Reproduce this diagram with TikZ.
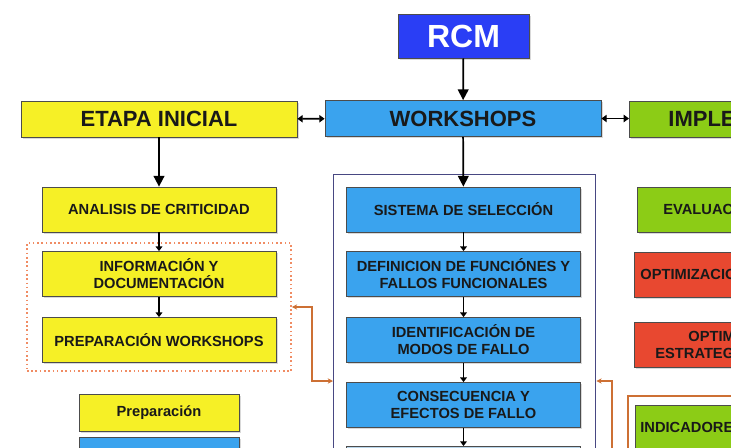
\documentclass[tikz,border=0pt]{standalone}
\usepackage{fontspec}
\setmainfont{Liberation Sans}
\usepackage{tikz}
\usetikzlibrary{shapes,arrows,arrows.meta,positioning,shadows,fit}

\definecolor{amarillo}{RGB}{246,240,38}
\definecolor{celeste}{RGB}{58,163,238}
\definecolor{azulrcm}{RGB}{42,62,245}
\definecolor{verde}{RGB}{140,204,22}
\definecolor{rojo}{RGB}{232,72,48}
\definecolor{naranja}{RGB}{205,112,52}
\definecolor{punteado}{RGB}{240,140,100}
\definecolor{marcoazul}{RGB}{72,72,130}

\tikzset{
	caja/.style={draw=black!70, line width=0.6pt, text=black!90, align=center, inner sep=0pt,
		font=\bfseries\fontsize{11}{12.75}\selectfont,
		drop shadow={opacity=0.3, shadow xshift=1.2pt, shadow yshift=-1.2pt}},
	grande/.style={caja, minimum width=207pt, minimum height=27pt, font=\bfseries\fontsize{16.5}{18}\selectfont},
	chica/.style={caja, minimum width=175.5pt, minimum height=33.75pt},
	corte/.style={caja, anchor=north west, align=left, inner ysep=0pt},
	flecha/.style={-{Triangle[length=8pt,width=8pt]}, line width=1.3pt},
	flechita/.style={-{Triangle[length=3.5pt,width=5pt]}, line width=1.2pt},
	doble/.style={{Triangle[length=4pt,width=5.5pt]}-{Triangle[length=4pt,width=5.5pt]}, line width=1.2pt},
	enlace/.style={{Stealth[length=4pt,width=4pt]}-{Stealth[length=4pt,width=4pt]}, draw=naranja, line width=1pt},
	retorno/.style={{Stealth[length=4pt,width=4pt]}-, draw=naranja, line width=1pt}
}

\begin{document}
\begin{tikzpicture}[x=0.75pt,y=-0.75pt]
	\useasboundingbox (0,0) rectangle (731,447);
	\clip (0,0) rectangle (731,447);

	\node[caja, fill=azulrcm, text=white, minimum width=98.25pt, minimum height=33pt, font=\bfseries\fontsize{24}{26}\selectfont] (rcm) at (463.5,36) {RCM};
	\node[grande, fill=amarillo] (etapa) at (159,119) {ETAPA INICIAL};
	\node[grande, fill=celeste] (workshops) at (463,118.5) {WORKSHOPS};
	\node[corte, fill=verde, minimum height=27pt, inner xsep=29.25pt, text width=60pt, font=\bfseries\fontsize{16.5}{18}\selectfont] (impl) at (629,101) {IMPLE};

	\node[chica, fill=amarillo] (analisis) at (159,209.5) {ANALISIS DE CRITICIDAD};
	\node[chica, fill=amarillo] (info) at (159,274) {INFORMACIÓN Y\\DOCUMENTACIÓN};
	\node[chica, fill=amarillo] (prepws) at (159,340) {PREPARACIÓN WORKSHOPS};
	\node[draw=punteado, dotted, line width=1.2pt, inner xsep=11pt, inner ysep=6pt, fit=(info)(prepws)] (grupo) {};
	\node[caja, fill=amarillo, minimum width=120pt, minimum height=27.75pt] (prep) at (159,412.5) {Preparación};
	\node[caja, fill=celeste, anchor=north, minimum width=120pt, minimum height=30pt] (azul) at (159,437) {};

	\node[draw=marcoazul, line width=1pt, anchor=north west, minimum width=196.5pt, minimum height=220pt] (marco) at (333,174) {};
	\node[chica, fill=celeste] (sistema) at (463.5,209.5) {SISTEMA DE SELECCIÓN};
	\node[chica, fill=celeste] (definicion) at (463.5,274) {DEFINICION DE FUNCIÓNES Y\\FALLOS FUNCIONALES};
	\node[chica, fill=celeste] (modos) at (463.5,340) {IDENTIFICACIÓN DE\\MODOS DE FALLO};
	\node[chica, fill=celeste] (consecuencia) at (463.5,405) {CONSECUENCIA Y\\EFECTOS DE FALLO};
	\node[chica, fill=celeste!70!gray!40, anchor=north] (siguiente) at (463.5,446) {};

	\node[corte, fill=verde, minimum height=33.75pt, inner xsep=19.5pt, text width=80pt] (evalua) at (637,187) {EVALUAC};
	\node[corte, fill=rojo, minimum height=33.75pt, inner xsep=4.5pt, text width=100pt] (optimiza) at (634,252) {OPTIMIZACIO};
	\node[corte, fill=rojo, minimum height=33.75pt, inner xsep=15.75pt, text width=90pt] (estrateg) at (634,322) {\hspace*{24.75pt}OPTIM\\ESTRATEG};
	\draw[naranja, line width=1pt] (628,396) rectangle (780,480);
	\node[corte, fill=verde, minimum height=33.75pt, inner xsep=3.75pt, text width=110pt] (indica) at (635,405) {INDICADORE};

	\draw[flecha] (rcm) -- (workshops);
	\draw[doble] (etapa) -- (workshops);
	\draw[doble] (workshops) -- (impl.west |- workshops);
	\draw[flecha] (etapa) -- (analisis);
	\draw[flecha] (workshops) -- (sistema);
	\draw[flechita] (analisis) -- (info);
	\draw[flechita] (info) -- (prepws);
	\draw[flechita] (sistema) -- (definicion);
	\draw[flechita] (definicion) -- (modos);
	\draw[flechita] (modos) -- (consecuencia);
	\draw[flechita] (consecuencia) -- (siguiente);

	\coordinate (cruce) at (333,381);
	\coordinate (baja) at (612,470);
	\draw[enlace] (grupo.east) -- ++(20,0) |- (cruce);
	\draw[retorno] (marco.east |- cruce) -| (baja);
\end{tikzpicture}
\end{document}
